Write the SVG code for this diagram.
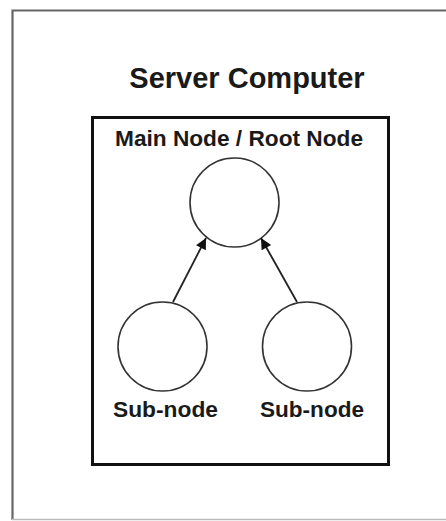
<svg xmlns="http://www.w3.org/2000/svg" width="446" height="521" viewBox="0 0 446 521">
<style>
.t{font-family:"Liberation Sans",Arial,sans-serif;font-weight:bold;fill:#1a1a1a;text-anchor:middle}
.n{fill:#fff;stroke:#333;stroke-width:1.6}
.e{stroke:#222;stroke-width:1.8;fill:none}
</style>
<defs>
<marker id="ah" viewBox="0 0 10 10" refX="10" refY="5" markerWidth="13" markerHeight="11" markerUnits="userSpaceOnUse" orient="auto">
<path d="M0,0 L10,5 L0,10 z" fill="#111"/>
</marker>
</defs>
<rect width="446" height="521" fill="#fff"/>
<g id="server">
<path d="M12.5,520 V10.5 H446" fill="none" stroke="#666" stroke-width="2.2"/>
<line x1="12" y1="519.5" x2="446" y2="519.5" stroke="#bbb" stroke-width="1.5"/>
<text class="t" x="247" y="88" font-size="29">Server Computer</text>
</g>
<g id="container">
<rect x="92.5" y="117.5" width="296" height="347" fill="none" stroke="#111" stroke-width="3"/>
<text class="t" x="239" y="146" font-size="22" textLength="248" lengthAdjust="spacingAndGlyphs">Main Node / Root Node</text>
</g>
<g id="root">
<circle class="n" cx="234.5" cy="202.5" r="44.5"/>
</g>
<g id="sub1">
<circle class="n" cx="162.5" cy="346.5" r="44.5"/>
<text class="t" x="165.5" y="417" font-size="22" textLength="105" lengthAdjust="spacingAndGlyphs">Sub-node</text>
</g>
<g id="sub2">
<circle class="n" cx="307" cy="346.5" r="44.5"/>
<text class="t" x="312" y="417" font-size="22" textLength="104" lengthAdjust="spacingAndGlyphs">Sub-node</text>
</g>
<g id="connectors">
<line class="e" x1="173" y1="302" x2="206" y2="238" marker-end="url(#ah)"/>
<line class="e" x1="297" y1="302" x2="261" y2="238" marker-end="url(#ah)"/>
</g>
</svg>
